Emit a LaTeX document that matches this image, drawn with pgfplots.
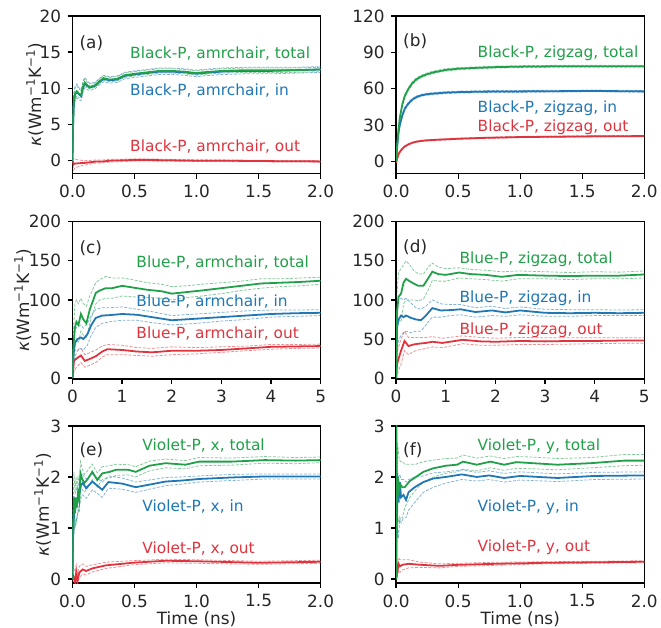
\documentclass[border=0pt]{standalone}
\usepackage{fontspec}
\setmainfont{DejaVu Sans}
\usepackage{pgfplots}
\usepackage{pgfplotstable}
\pgfplotsset{compat=1.18}
\definecolor{cgreen}{RGB}{32,160,72}
\definecolor{cblue}{RGB}{31,119,180}
\definecolor{cred}{RGB}{222,52,62}

% ---------- panel (a) ----------
\pgfplotstableread{
t m lo hi
0 0 0 0
0.005 5 4 6
0.01 8 7 9
0.02 9.2 8.5 10
0.035 9.6 9 10.4
0.05 9.3 8.7 10
0.07 9.0 8.6 9.6
0.085 10.2 9.8 10.8
0.1 10.8 10.4 11.3
0.12 10.4 10 10.8
0.14 10.2 9.9 10.6
0.18 10.4 10.1 10.7
0.22 11.0 10.7 11.3
0.25 11.4 11.1 11.7
0.3 11.2 10.9 11.5
0.36 11.3 11.0 11.6
0.42 11.8 11.5 12.1
0.5 12.0 11.7 12.3
0.6 12.2 11.9 12.5
0.7 12.4 12.1 12.7
0.8 12.4 12.1 12.7
0.9 12.3 12.0 12.6
1.0 12.1 11.8 12.4
1.05 12.2 11.9 12.5
1.2 12.4 12.1 12.7
1.4 12.5 12.2 12.8
1.6 12.5 12.2 12.8
1.8 12.5 12.2 12.8
2.0 12.6 12.3 12.9
}\taT
\pgfplotstableread{
t m lo hi
0 0 0 0
0.005 4.8 3.6 6.2
0.01 7.8 6.6 9.2
0.02 9.1 8.2 10.2
0.035 9.5 8.7 10.6
0.05 9.2 8.4 10.1
0.07 8.9 8.3 9.8
0.085 10.1 9.5 11.0
0.1 10.7 10.1 11.5
0.12 10.3 9.8 11.0
0.14 10.1 9.7 10.7
0.18 10.3 9.9 10.8
0.22 10.9 10.5 11.4
0.25 11.3 10.9 11.8
0.3 11.1 10.7 11.6
0.36 11.2 10.8 11.7
0.42 11.7 11.3 12.2
0.5 11.9 11.5 12.4
0.6 12.1 11.7 12.6
0.7 12.3 11.9 12.8
0.8 12.3 11.9 12.8
0.9 12.2 11.8 12.7
1.0 12.0 11.6 12.5
1.05 12.1 11.7 12.6
1.2 12.3 11.9 12.8
1.4 12.4 12.0 12.9
1.6 12.4 12.0 12.9
1.8 12.5 12.1 12.9
2.0 12.6 12.2 13.0
}\taI
\pgfplotstableread{
t m lo hi
0 0 0 0
0.01 -0.5 -1.3 0.3
0.02 -0.4 -1.0 0.2
0.05 -0.35 -0.8 0.1
0.1 -0.3 -0.6 0.0
0.15 -0.2 -0.45 0.05
0.2 -0.1 -0.3 0.1
0.25 -0.1 -0.3 0.1
0.3 0.0 -0.2 0.2
0.4 0.05 -0.12 0.2
0.5 0.1 -0.05 0.25
0.6 0.1 -0.05 0.25
0.8 0.05 -0.08 0.18
1.0 0.0 -0.12 0.12
1.2 0.0 -0.12 0.12
1.5 -0.05 -0.15 0.05
2.0 -0.1 -0.2 0.0
}\taO

% ---------- panel (b) ----------
\pgfplotstableread{
t m lo hi
0 0 0 0
0.01 15 13.5 16.5
0.02 27 25.5 28.5
0.03 36 34.5 37.5
0.05 47 45.5 48.5
0.07 54 52.8 55.2
0.1 60 58.8 61.2
0.13 64.5 63.3 65.7
0.16 67.5 66.3 68.7
0.2 70 69 71
0.25 72 71 73
0.3 73.5 72.5 74.5
0.35 74.5 73.5 75.5
0.4 75.5 74.5 76.5
0.5 76.5 75.6 77.4
0.6 77 76.2 77.8
0.8 77.8 77 78.6
1.0 78.2 77.4 79
1.2 78.4 77.6 79.2
1.5 78.6 77.8 79.4
1.8 78.5 77.7 79.3
2.0 78.5 77.7 79.3
}\tbT
\pgfplotstableread{
t m lo hi
0 0 0 0
0.01 14 13 15
0.02 24 23 25
0.03 30 29 31
0.05 38 37 39
0.07 43.5 42.5 44.5
0.1 48 47 49
0.13 51 50.1 51.9
0.16 53 52.1 53.9
0.2 54.5 53.7 55.3
0.25 55.5 54.7 56.3
0.3 56 55.2 56.8
0.4 56.8 56 57.6
0.5 57.2 56.4 58
0.7 57.6 56.8 58.4
1.0 57.8 57 58.6
1.3 58 57.3 58.7
1.6 58.2 57.5 58.9
2.0 57.8 57.1 58.5
}\tbI
\pgfplotstableread{
t m lo hi
0 -1 -1 -1
0.01 3 2.4 3.6
0.02 6 5.4 6.6
0.03 8 7.4 8.6
0.05 10.5 9.9 11.1
0.07 12.5 12 13
0.1 14.2 13.7 14.7
0.13 15.5 15 16
0.16 16.3 15.8 16.8
0.2 17 16.5 17.5
0.25 17.5 17 18
0.3 17.8 17.3 18.3
0.4 18.3 17.8 18.8
0.5 18.8 18.3 19.3
0.7 19.5 19 20
1.0 20.2 19.7 20.7
1.3 20.5 20 21
1.6 20.8 20.3 21.3
2.0 21 20.5 21.5
}\tbO

% ---------- panel (c) ----------
\pgfplotstableread{
t m lo hi
0 0 0 0
0.02 40 20 60
0.05 65 40 95
0.08 72 50 100
0.12 68 45 95
0.17 82 60 102
0.22 75 55 95
0.28 70 52 92
0.35 88 70 105
0.42 100 85 115
0.47 109 95 122
0.55 112 100 126
0.67 115 102 130
0.8 115 102 128
1.0 118 105 128
1.2 116 104 126
1.5 113 103 122
1.8 111 102 120
2.0 108 100 117
2.3 110 103 118
2.6 112 105 120
3.0 115 108 122
3.4 118 112 124
3.8 121 115 127
4.2 122 117 127
4.6 123 118 128
5.0 124.5 120 129
}\tcT
\pgfplotstableread{
t m lo hi
0 0 0 0
0.02 30 15 45
0.05 45 28 62
0.1 50 35 66
0.17 52 38 68
0.22 50 36 64
0.3 56 42 70
0.38 68 55 80
0.47 77 65 88
0.6 80 70 90
0.74 80.5 72 90
1.0 82 74 91
1.3 81 74 88
1.6 78 71 85
2.0 74 68 80
2.5 76 70 82
3.0 78 73 84
3.5 80 75 86
4.0 82 78 87
4.5 83 79 87
5.0 83.5 80 87.5
}\tcI
\pgfplotstableread{
t m lo hi
0 0 0 0
0.03 22 8 35
0.08 25 14 36
0.17 29 20 38
0.25 22 14 30
0.33 24 16 32
0.47 28 20 36
0.6 34 27 41
0.7 37 30 43
1.0 36 30 42
1.3 34 29 39
1.6 33 28 38
2.0 35 30 40
2.5 35 31 39
3.0 36 33 40
3.5 38 35 41
4.0 40 37 43
4.5 40.5 38 43
5.0 41 38.5 43.5
}\tcO

% ---------- panel (d) ----------
\pgfplotstableread{
t m lo hi
0 0 0 0
0.02 85 60 110
0.05 104 75 135
0.1 108 72 140
0.15 122 95 145
0.2 127 100 150
0.27 124 100 145
0.35 121 100 138
0.45 118 99 133
0.55 118 101 133
0.65 128 113 142
0.73 136 125 147
0.85 133 124 142
1.0 132 124 140
1.27 135 128 141
1.5 133 127 139
1.8 132 126 138
2.13 129.5 124 136
2.46 132 127 137
3.0 131 127 136
3.5 130.5 126 135
4.0 131 127 136
4.5 131 127 135.5
5.0 132.5 128 137
}\tdT
\pgfplotstableread{
t m lo hi
0 0 0 0
0.02 65 40 90
0.05 75 48 100
0.1 80 55 102
0.15 78 58 100
0.2 80 60 102
0.3 77 58 96
0.4 75 60 90
0.5 74 60 88
0.6 80 68 92
0.73 89.5 78 100
0.9 86.5 78 95
1.1 87 80 94
1.3 88 81 94
1.6 84.5 78 90
1.93 86.5 80 92
2.2 84 79 89
2.5 86.5 81 91
3.0 83.5 79 88
3.5 83 79 87.5
4.0 83.5 80 87.5
4.5 83 80 87
5.0 83.5 80 87.5
}\tdI
\pgfplotstableread{
t m lo hi
0 0 0 0
0.02 18 5 32
0.05 25 10 40
0.1 35 18 50
0.17 47.5 35 60
0.25 41 30 52
0.35 43 34 52
0.45 44 36 52
0.6 45 38 52
0.73 46.5 40 53
0.93 45 39 51
1.34 49 44 54
1.7 47 42 52
2.0 46.5 42 51
2.5 47.5 43 52
3.0 47 43 51.5
3.5 47.5 43.5 51.5
4.0 47.5 44 51.5
4.5 48 44.5 51.5
5.0 48 44.5 51.5
}\tdO

% ---------- panel (e) ----------
\pgfplotstableread{
t m lo hi
0 0 0 0
0.005 0.9 0.5 1.4
0.012 1.6 1.1 2.1
0.02 1.3 1.0 1.7
0.028 1.6 1.2 2.0
0.035 1.4 1.1 1.8
0.045 1.7 1.4 2.0
0.055 1.55 1.3 1.9
0.065 2.07 1.8 2.3
0.08 1.95 1.75 2.15
0.096 1.88 1.7 2.05
0.12 1.95 1.78 2.12
0.16 2.1 1.95 2.25
0.2 1.94 1.8 2.08
0.24 2.07 1.95 2.2
0.3 2.1 1.98 2.22
0.35 2.14 2.03 2.25
0.45 2.14 2.04 2.24
0.51 2.1 2.0 2.2
0.62 2.22 2.12 2.31
0.75 2.27 2.18 2.35
0.91 2.24 2.16 2.32
1.02 2.3 2.22 2.38
1.28 2.3 2.23 2.37
1.55 2.33 2.27 2.4
1.8 2.32 2.26 2.38
2.0 2.33 2.28 2.39
}\teT
\pgfplotstableread{
t m lo hi
0 0 0 0
0.005 0.9 0.6 1.3
0.012 1.23 0.9 1.6
0.025 1.4 1.1 1.7
0.04 1.5 1.25 1.8
0.056 1.68 1.45 1.9
0.07 1.85 1.6 2.05
0.083 1.88 1.65 2.05
0.11 1.78 1.58 1.96
0.16 1.91 1.75 2.06
0.21 1.81 1.66 1.96
0.24 1.75 1.6 1.9
0.29 1.9 1.78 2.02
0.4 1.87 1.76 1.98
0.51 1.8 1.7 1.9
0.62 1.85 1.76 1.94
0.75 1.91 1.83 1.99
0.88 1.93 1.86 2.0
1.02 1.96 1.9 2.02
1.28 1.99 1.93 2.05
1.55 2.01 1.96 2.06
1.8 2.01 1.96 2.06
2.0 2.01 1.96 2.06
}\teI
\pgfplotstableread{
t m lo hi
0 0 0 0
0.008 0.05 -0.05 0.2
0.02 -0.05 -0.15 0.15
0.03 0.13 0.0 0.28
0.04 -0.05 -0.12 0.1
0.055 0.13 0.03 0.25
0.083 0.19 0.1 0.3
0.11 0.16 0.08 0.25
0.16 0.21 0.14 0.28
0.27 0.27 0.21 0.33
0.4 0.3 0.25 0.35
0.48 0.32 0.28 0.36
0.75 0.36 0.32 0.39
1.0 0.35 0.31 0.38
1.5 0.32 0.29 0.35
2.0 0.34 0.31 0.37
}\teO

% ---------- panel (f) ----------
\pgfplotstableread{
t m lo hi
0 0 0 0
0.002 3.3 3.3 3.3
0.008 1.5 0.9 2.2
0.015 2.0 1.2 2.6
0.025 1.75 1.1 2.35
0.035 1.85 1.2 2.3
0.05 1.8 1.2 2.3
0.07 1.8 1.4 2.25
0.11 1.92 1.6 2.25
0.16 2.0 1.75 2.25
0.22 2.1 1.9 2.3
0.3 2.17 2.0 2.33
0.4 2.22 2.07 2.36
0.49 2.24 2.1 2.37
0.54 2.3 2.15 2.43
0.65 2.24 2.12 2.37
0.76 2.3 2.18 2.41
0.87 2.24 2.13 2.36
0.97 2.29 2.17 2.4
1.1 2.27 2.16 2.39
1.3 2.24 2.14 2.36
1.57 2.27 2.18 2.38
1.84 2.32 2.22 2.44
2.0 2.32 2.23 2.44
}\tfT
\pgfplotstableread{
t m lo hi
0 0 0 0
0.005 1.0 0.6 1.4
0.012 1.7 1.0 2.1
0.02 1.5 0.8 2.0
0.03 1.9 1.2 2.05
0.04 1.6 1.1 1.95
0.06 1.65 1.2 1.95
0.08 1.55 1.2 1.9
0.1 1.7 1.35 1.95
0.15 1.8 1.5 2.0
0.22 1.9 1.7 2.02
0.3 1.97 1.8 2.08
0.4 2.0 1.88 2.1
0.53 2.05 1.95 2.14
0.65 2.0 1.92 2.09
0.75 2.03 1.95 2.12
0.87 1.98 1.9 2.07
1.0 2.02 1.94 2.1
1.3 1.98 1.91 2.06
1.6 2.02 1.95 2.09
2.0 2.03 1.96 2.1
}\tfI
\pgfplotstableread{
t m lo hi
0 0.05 -0.05 0.15
0.005 0.3 0.15 0.42
0.01 0.15 0.02 0.3
0.02 0.3 0.18 0.42
0.03 0.25 0.13 0.38
0.05 0.28 0.18 0.38
0.1 0.3 0.22 0.38
0.2 0.28 0.23 0.33
0.35 0.26 0.22 0.3
0.5 0.28 0.25 0.31
0.8 0.3 0.27 0.33
1.2 0.32 0.3 0.34
1.6 0.33 0.31 0.35
2.0 0.34 0.32 0.36
}\tfO

\tikzset{
  bnd/.style={line width=0.8pt, dash pattern=on 3pt off 1.5pt, opacity=0.55},
  mainl/.style={line width=1.8pt},
  annot/.style={anchor=west, inner sep=0pt, font=\fontsize{15.5}{18}\selectfont},
  plab/.style={anchor=west, inner sep=0pt, font=\fontsize{17}{20}\selectfont, text=black!85},
}
\pgfplotsset{
  myax/.style={
    scale only axis, width=250pt,
    axis line style={line width=1.5pt, black},
    tick align=outside, xtick pos=bottom, ytick pos=left,
    major tick length=5pt,
    tick style={line width=1.3pt, black},
    tick label style={font=\fontsize{17}{20}\selectfont, text=black!85},
    /pgf/number format/assume math mode=true,
    xticklabel style={yshift=-3pt},
    yticklabel style={xshift=-3pt},
  },
  decx/.style={xmin=0, xmax=2, xtick={0,0.5,1,1.5,2},
    xticklabel style={/pgf/number format/.cd, fixed, fixed zerofill, precision=1}},
  intx/.style={xmin=0, xmax=5, xtick={0,1,2,3,4,5}},
  kap/.style n args={1}{ylabel={{\itshape κ}(Wm\textsuperscript{−1}K\textsuperscript{−1})},
    every axis y label/.style={at={(axis description cs:#1,0.5)}, anchor=center, rotate=90,
      font=\fontsize{17}{20}\selectfont, text=black!85}},
  tlab/.style={xlabel={Time (ns)},
    every axis x label/.style={at={(axis description cs:0.5,-0.177)}, anchor=north, inner sep=0pt,
      font=\fontsize{17}{20}\selectfont, text=black!85}},
}

\newcommand{\band}[2]{%
  \addplot[#2, bnd] table[x=t,y=hi]{#1};
  \addplot[#2, bnd] table[x=t,y=lo]{#1};
}

\begin{document}
\begin{tikzpicture}

% (a)
\begin{axis}[myax, decx, at={(73pt,457pt)}, anchor=south west, height=159pt,
  ymin=-1.8, ymax=20, ytick={0,5,10,15,20}, kap={-0.152}]
  \band{\taO}{cred}
  \band{\taI}{cblue}
  \band{\taT}{cgreen}
  \addplot[cred, mainl] table[x=t,y=m]{\taO};
  \addplot[cblue, mainl] table[x=t,y=m]{\taI};
  \addplot[cgreen, mainl] table[x=t,y=m]{\taT};
  \node[plab] at (rel axis cs:0.028,0.830) {(a)};
  \node[annot, text=cgreen] at (rel axis cs:0.232,0.761) {Black-P, amrchair, total};
  \node[annot, text=cblue] at (rel axis cs:0.232,0.528) {Black-P, amrchair, in};
  \node[annot, text=cred] at (rel axis cs:0.232,0.170) {Black-P, amrchair, out};
\end{axis}

% (b)
\begin{axis}[myax, decx, at={(399pt,457pt)}, anchor=south west, height=159pt,
  ymin=-10, ymax=120, ytick={0,30,60,90,120}]
  \band{\tbO}{cred}
  \band{\tbI}{cblue}
  \band{\tbT}{cgreen}
  \addplot[cred, mainl] table[x=t,y=m]{\tbO};
  \addplot[cblue, mainl] table[x=t,y=m]{\tbI};
  \addplot[cgreen, mainl] table[x=t,y=m]{\tbT};
  \node[plab] at (rel axis cs:0.028,0.838) {(b)};
  \node[annot, text=cgreen] at (rel axis cs:0.328,0.761) {Black-P, zigzag, total};
  \node[annot, text=cblue] at (rel axis cs:0.328,0.415) {Black-P, zigzag, in};
  \node[annot, text=cred] at (rel axis cs:0.328,0.296) {Black-P, zigzag, out};
\end{axis}

% (c)
\begin{axis}[myax, intx, at={(73pt,250.3pt)}, anchor=south west, height=158.4pt,
  ymin=-1, ymax=200, ytick={0,50,100,150,200}, kap={-0.2}]
  \band{\tcO}{cred}
  \band{\tcI}{cblue}
  \band{\tcT}{cgreen}
  \addplot[cred, mainl] table[x=t,y=m]{\tcO};
  \addplot[cblue, mainl] table[x=t,y=m]{\tcI};
  \addplot[cgreen, mainl] table[x=t,y=m]{\tcT};
  \node[plab] at (rel axis cs:0.028,0.832) {(c)};
  \node[annot, text=cgreen] at (rel axis cs:0.257,0.743) {Blue-P, armchair, total};
  \node[annot, text=cblue] at (rel axis cs:0.257,0.491) {Blue-P, armchair, in};
  \node[annot, text=cred] at (rel axis cs:0.257,0.289) {Blue-P, armchair, out};
\end{axis}

% (d)
\begin{axis}[myax, intx, at={(399pt,250.3pt)}, anchor=south west, height=158.4pt,
  ymin=-1, ymax=200, ytick={0,50,100,150,200}]
  \band{\tdO}{cred}
  \band{\tdI}{cblue}
  \band{\tdT}{cgreen}
  \addplot[cred, mainl] table[x=t,y=m]{\tdO};
  \addplot[cblue, mainl] table[x=t,y=m]{\tdI};
  \addplot[cgreen, mainl] table[x=t,y=m]{\tdT};
  \node[plab] at (rel axis cs:0.028,0.836) {(d)};
  \node[annot, text=cgreen] at (rel axis cs:0.255,0.758) {Blue-P, zigzag, total};
  \node[annot, text=cblue] at (rel axis cs:0.255,0.516) {Blue-P, zigzag, in};
  \node[annot, text=cred] at (rel axis cs:0.255,0.312) {Blue-P, zigzag, out};
\end{axis}

% (e)
\begin{axis}[myax, decx, at={(73pt,44.5pt)}, anchor=south west, height=158.5pt,
  ymin=-0.08, ymax=3, ytick={0,1,2,3}, kap={-0.12}, tlab]
  \band{\teO}{cred}
  \band{\teI}{cblue}
  \band{\teT}{cgreen}
  \addplot[cred, mainl] table[x=t,y=m]{\teO};
  \addplot[cblue, mainl] table[x=t,y=m]{\teI};
  \addplot[cgreen, mainl] table[x=t,y=m]{\teT};
  \node[plab] at (rel axis cs:0.028,0.847) {(e)};
  \node[annot, text=cgreen] at (rel axis cs:0.281,0.872) {Violet-P, x, total};
  \node[annot, text=cblue] at (rel axis cs:0.281,0.485) {Violet-P, x, in};
  \node[annot, text=cred] at (rel axis cs:0.281,0.220) {Violet-P, x, out};
\end{axis}

% (f)
\begin{axis}[myax, decx, at={(399pt,44.5pt)}, anchor=south west, height=158.5pt,
  ymin=-0.08, ymax=3, ytick={0,1,2,3}, tlab]
  \band{\tfO}{cred}
  \band{\tfI}{cblue}
  \band{\tfT}{cgreen}
  \addplot[cred, mainl] table[x=t,y=m]{\tfO};
  \addplot[cblue, mainl] table[x=t,y=m]{\tfI};
  \addplot[cgreen, mainl] table[x=t,y=m]{\tfT};
  \node[plab] at (rel axis cs:0.028,0.847) {(f)};
  \node[annot, text=cgreen] at (rel axis cs:0.328,0.872) {Violet-P, y, total};
  \node[annot, text=cblue] at (rel axis cs:0.328,0.485) {Violet-P, y, in};
  \node[annot, text=cred] at (rel axis cs:0.328,0.226) {Violet-P, y, out};
\end{axis}
\useasboundingbox (0,0) rectangle (661pt,632pt);
\end{tikzpicture}
\end{document}
